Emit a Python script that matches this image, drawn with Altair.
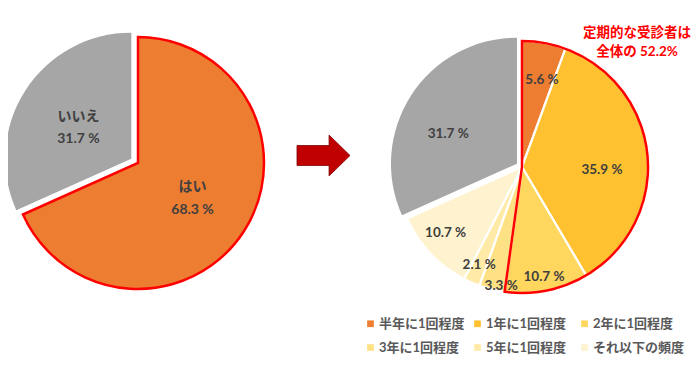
import math
import altair as alt
import pandas as pd

# ---------------- data ----------------
left_labels = ["はい", "いいえ"]
left_values = [68.3, 31.7]

freq_labels = ["半年に1回程度", "1年に1回程度", "2年に1回程度",
               "3年に1回程度", "5年に1回程度", "それ以下の頻度"]
freq_values = [5.6, 35.9, 10.7, 3.3, 2.1, 10.7]
no_label = "いいえ"
no_value = 31.7

note_lines = ["定期的な受診者は", "全体の 52.2%"]

# ---------------- style / layout ----------------
freq_colors = ["#ED7D31", "#FFC12F", "#FFD75E", "#FFE185", "#FFEAA8", "#FFF3CF"]
ORANGE = "#ED7D31"
GREY = "#A6A6A6"
RED = "#FF0000"
TXT = "#404040"
FONT = "Lato, 'Noto Sans CJK JP', sans-serif"
R = 126

LEFT_C = (130, 155)
RIGHT_C = (514, 159)
LEFT_EXPLODE = 8
RIGHT_EXPLODE = 6

# label polar offsets: (radius px, angle nudge in percent units)
LEFT_LABEL = {"はい": (65, 0.0), "いいえ": (61, -0.8)}
RIGHT_LABEL = {"半年に1回程度": (89, 0.8), "1年に1回程度": (80, 2.0),
               "2年に1回程度": (112, 0.0), "3年に1回程度": (121, -1.1),
               "5年に1回程度": (107, 0.0), "それ以下の頻度": (101, 0.7),
               "いいえ": (75, -2.6)}


def slices(labels, values):
    rows, acc = [], 0.0
    for lab, v in zip(labels, values):
        rows.append(dict(cat=lab, value=v, start=acc, end=acc + v,
                         mid=acc + v / 2, pct=f"{v:.1f} %"))
        acc += v
    return pd.DataFrame(rows)


def explode(center, mid, d):
    a = mid / 100 * 2 * math.pi
    return (center[0] + d * math.sin(a), center[1] - d * math.cos(a))


theta_scale = alt.Scale(domain=[0, 100], range=[0, 2 * math.pi])

left = slices(left_labels, left_values)
right = slices(freq_labels + [no_label], freq_values + [no_value])

# ---------------- left pie ----------------
lyes = left[left.cat == "はい"].copy()
lno = left[left.cat == "いいえ"].copy()
lno_c = explode(LEFT_C, float(lno["mid"].iloc[0]), LEFT_EXPLODE)


def arc(df, center, **kw):
    return alt.Chart(df).mark_arc(radius=R, **kw).encode(
        theta=alt.Theta("start:Q", scale=theta_scale, stack=None),
        theta2="end:Q",
        x=alt.value(center[0]), y=alt.value(center[1]),
    )


def labels(df, center, layout, size, lh, nlines=1):
    d = df.copy()
    d["lt"] = [m + layout[c][1] for m, c in zip(d["mid"], d["cat"])]
    d["lr"] = [layout[c][0] for c in d["cat"]]
    return alt.Chart(d).mark_text(
        font=FONT, fontSize=size, fontWeight="bold", color=TXT,
        align="center", baseline="middle", lineBreak="\n", lineHeight=lh,
        dy=-(nlines - 1) * lh / 2,
    ).encode(
        theta=alt.Theta("lt:Q", scale=theta_scale, stack=None),
        radius=alt.Radius("lr:Q", scale=None),
        text="txt:N",
        x=alt.value(center[0]), y=alt.value(center[1]),
    )


lyes["txt"] = lyes["cat"] + "\n" + lyes["pct"]
lno["txt"] = lno["cat"] + "\n" + lno["pct"]

left_yes_arc = arc(lyes, LEFT_C, fill=ORANGE, stroke=RED, strokeWidth=2.5)
left_no_arc = arc(lno, lno_c, fill=GREY)
left_yes_lab = labels(lyes, LEFT_C, LEFT_LABEL, 14, 22.5, 2)
left_no_lab = labels(lno, lno_c, LEFT_LABEL, 14, 22.5, 2)

# ---------------- right pie ----------------
rfreq = right[right.cat != no_label].copy()
rno = right[right.cat == no_label].copy()
rno_c = explode(RIGHT_C, float(rno["mid"].iloc[0]), RIGHT_EXPLODE)
rfreq["txt"] = rfreq["pct"]
rno["txt"] = rno["pct"]

right_arcs = alt.Chart(rfreq).mark_arc(radius=R, stroke="white", strokeWidth=2.2).encode(
    theta=alt.Theta("start:Q", scale=theta_scale, stack=None),
    theta2="end:Q",
    x=alt.value(RIGHT_C[0]), y=alt.value(RIGHT_C[1]),
    color=alt.Color(
        "cat:N",
        scale=alt.Scale(domain=freq_labels, range=freq_colors),
        legend=alt.Legend(
            title=None, orient="none", legendX=356, legendY=309,
            direction="horizontal", columns=3, gridAlign="all",
            symbolType="square", symbolSize=45, symbolStrokeWidth=0,
            labelFont=FONT, labelFontSize=13, labelFontWeight="bold",
            labelColor="#595959", labelOffset=2, labelLimit=0,
            columnPadding=-1, rowPadding=10,
        ),
    ),
)
right_no_arc = arc(rno, rno_c, fill=GREY)

# red outline around regular examinees (first three categories)
regular = pd.DataFrame([dict(start=0.0, end=float(sum(freq_values[:3])))])
red_outline = arc(regular, RIGHT_C, fillOpacity=0, stroke=RED, strokeWidth=2.5)

right_lab = labels(rfreq, RIGHT_C, RIGHT_LABEL, 13.5, 20)
right_no_lab = labels(rno, rno_c, RIGHT_LABEL, 13.5, 20)

# ---------------- arrow ----------------
arrow_path = "M-1,-0.377L0.21,-0.377L0.21,-0.77L1,0L0.21,0.77L0.21,0.377L-1,0.377Z"
arrow = alt.Chart(pd.DataFrame({"a": [0]})).mark_point(
    shape=arrow_path, size=2809, filled=True, fill="#C00000",
    stroke="#7F0000", strokeWidth=0.8, opacity=1,
).encode(x=alt.value(315.5), y=alt.value(147.5))

# ---------------- note ----------------
note = alt.Chart(pd.DataFrame({"t": ["\n".join(note_lines)]})).mark_text(
    font=FONT, fontSize=13.5, fontWeight="bold", color=RED,
    align="center", baseline="middle", lineBreak="\n", lineHeight=19,
    dy=-9.5,
).encode(text="t:N", x=alt.value(629), y=alt.value(34.5))

chart = alt.layer(
    left_no_arc, left_yes_arc, left_no_lab, left_yes_lab,
    right_no_arc, right_arcs, red_outline, right_lab, right_no_lab,
    arrow, note,
).properties(
    width=684, height=348, padding=0, autosize=alt.AutoSizeParams(type="none"),
).configure_view(stroke=None)

chart.save("out.html", embed_options={"renderer": "svg", "actions": False})
